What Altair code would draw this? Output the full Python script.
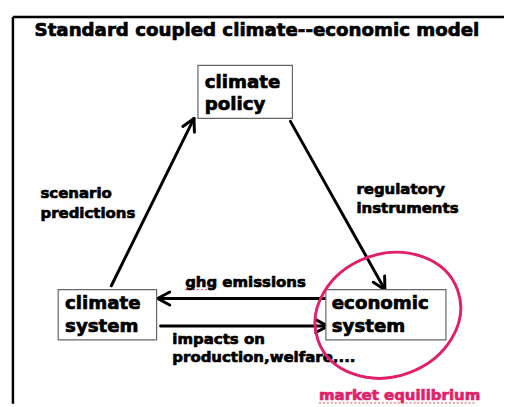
import altair as alt
import pandas as pd
import numpy as np

# ---------------- data (image pixel coordinates) ----------------
frame_x1 = [13, 13]
frame_y1 = [14, 14]
frame_x2 = [512, 13]
frame_y2 = [14, 407]

box_names = ["climate policy", "climate system", "economic system"]
box_left = [201, 59, 331]
box_top = [63, 291, 291]
box_right = [297, 159, 453]
box_bottom = [117, 342, 342]

label_text = ["Standard coupled climate--economic model",
              "climate", "policy",
              "climate", "system",
              "economic", "system",
              "scenario", "predictions",
              "regulatory", "instruments",
              "ghg emissions",
              "impacts on", "production,welfare,...",
              "market equilibrium"]
label_x = [35, 208, 208, 66, 66, 337, 337, 41, 41, 362, 362, 188, 175, 175, 324]
label_y = [27, 80, 102, 305, 328, 305, 328, 193, 213, 189, 208, 283, 341, 359, 398]
label_size = [18.5, 18.5, 18.5, 18.5, 18.5, 18.5, 18.5, 15.2, 15.2, 15.2, 15.2, 15.2, 15.2, 15.2, 15.2]
label_color = ["black"] * 14 + ["#e0206a"]

# spell-check squiggles under "ghg" and "market equilibrium"
squig_x1 = [188, 324]
squig_x2 = [218, 483]
squig_y = [291, 406]

arrow_x1 = [113, 295, 330, 163]
arrow_y1 = [287, 120, 300, 328]
arrow_x2 = [197, 391, 160, 333]
arrow_y2 = [117, 291, 300, 328]

ellipse_x = [394]
ellipse_y = [317]

# ---------------- scales ----------------
W, H = 504, 399
xs = alt.Scale(domain=[8, 512], nice=False, zero=False)
ys = alt.Scale(domain=[407, 8], nice=False, zero=False)

frame_df = pd.DataFrame({"x": frame_x1, "y": frame_y1, "x2": frame_x2, "y2": frame_y2})
frame = alt.Chart(frame_df).mark_rule(color="black", strokeWidth=2.5).encode(
    x=alt.X("x:Q", scale=xs, axis=None), y=alt.Y("y:Q", scale=ys, axis=None),
    x2="x2:Q", y2="y2:Q")

box_df = pd.DataFrame({"name": box_names, "l": box_left, "t": box_top,
                       "r": box_right, "b": box_bottom})
boxes = alt.Chart(box_df).mark_rect(fill="white", stroke="#666666", strokeWidth=1.2).encode(
    x=alt.X("l:Q", scale=xs, axis=None), x2="r:Q",
    y=alt.Y("t:Q", scale=ys, axis=None), y2="b:Q")

# arrows: shafts + open V heads
shafts = pd.DataFrame({"x": arrow_x1, "y": arrow_y1, "x2": arrow_x2, "y2": arrow_y2})
heads = []
L = 14.0
ang = np.deg2rad(28)
for x1, y1, x2, y2 in zip(arrow_x1, arrow_y1, arrow_x2, arrow_y2):
    d = np.array([x2 - x1, y2 - y1], dtype=float)
    d /= np.linalg.norm(d)
    for s in (1, -1):
        c, sn = np.cos(s * ang), np.sin(s * ang)
        w = np.array([c * d[0] - sn * d[1], sn * d[0] + c * d[1]])
        heads.append({"x": x2, "y": y2, "x2": x2 - L * w[0], "y2": y2 - L * w[1]})
seg_df = pd.concat([shafts, pd.DataFrame(heads)], ignore_index=True)
arrows = alt.Chart(seg_df).mark_rule(color="black", strokeWidth=3, strokeCap="round").encode(
    x=alt.X("x:Q", scale=xs, axis=None), y=alt.Y("y:Q", scale=ys, axis=None),
    x2="x2:Q", y2="y2:Q")

squig_df = pd.DataFrame({"x": squig_x1, "x2": squig_x2, "y": squig_y})
squig = alt.Chart(squig_df).mark_rule(color="#e04848", strokeWidth=1.2,
                                      strokeDash=[2, 2], opacity=0.8).encode(
    x=alt.X("x:Q", scale=xs, axis=None), x2="x2:Q",
    y=alt.Y("y:Q", scale=ys, axis=None))

ell_df = pd.DataFrame({"x": ellipse_x, "y": ellipse_y})
ellipse = alt.Chart(ell_df).mark_point(
    shape="M -1.21 0 A 1.21 1 0 1 0 1.21 0 A 1.21 1 0 1 0 -1.21 0 Z",
    size=15525, angle=340, filled=False, stroke="#e0206a", strokeWidth=3, opacity=1).encode(
    x=alt.X("x:Q", scale=xs, axis=None), y=alt.Y("y:Q", scale=ys, axis=None))

lab_df = pd.DataFrame({"text": label_text, "x": label_x, "y": label_y,
                       "size": label_size, "color": label_color})
labels = alt.Chart(lab_df).mark_text(align="left", baseline="middle",
                                     font="DejaVu Sans", fontWeight="bold",
                                     strokeWidth=0.7).encode(
    x=alt.X("x:Q", scale=xs, axis=None), y=alt.Y("y:Q", scale=ys, axis=None),
    text="text:N", size=alt.Size("size:Q", scale=None),
    color=alt.Color("color:N", scale=None),
    stroke=alt.Stroke("color:N", scale=None))

chart = alt.layer(frame, arrows, boxes, squig, labels, ellipse).properties(
    width=W, height=H, padding=0, autosize=alt.AutoSizeParams(type="none"),
    background="white"
).configure_view(stroke=None)

chart.save("out.html", embed_options={"renderer": "svg", "actions": False})
